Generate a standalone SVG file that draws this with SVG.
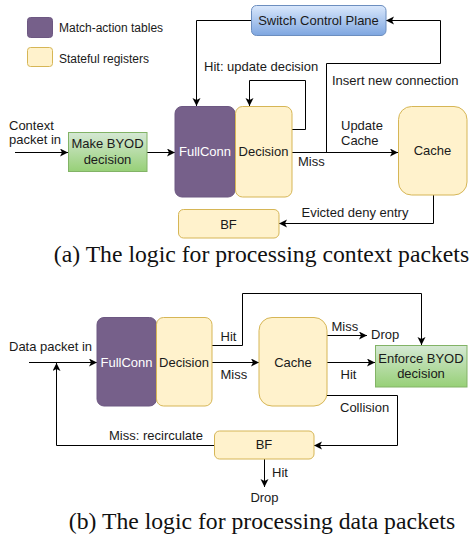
<svg xmlns="http://www.w3.org/2000/svg" width="472" height="538" viewBox="0 0 472 538">
<defs>
<linearGradient id="gGreen" x1="0" y1="0" x2="0" y2="1"><stop offset="0" stop-color="#d5e8d4"/><stop offset="1" stop-color="#97d077"/></linearGradient>
<linearGradient id="gBlue" x1="0" y1="0" x2="0" y2="1"><stop offset="0" stop-color="#dae8fc"/><stop offset="1" stop-color="#7ea6e0"/></linearGradient>
<marker id="arr" markerUnits="userSpaceOnUse" markerWidth="10" markerHeight="10" refX="8" refY="4" orient="auto"><path d="M0,0 L8,4 L0,8 L2,4 z" fill="#000"/></marker>
</defs>
<style>
text{font-family:"Liberation Sans",Arial,Helvetica,sans-serif;font-size:13px;fill:#1a1a1a}
.lg{font-size:12px}
.c{text-anchor:middle}
.w{fill:#ffffff}
.cap{font-family:"Liberation Serif","Times New Roman",serif;font-size:23.7px;text-anchor:middle;fill:#111}
.mat{fill:#76608a;stroke:#6d5882;stroke-width:1}
.reg{fill:#fff2cc;stroke:#d6b656;stroke-width:1}
.grn{fill:url(#gGreen);stroke:#82b366;stroke-width:1}
.blu{fill:url(#gBlue);stroke:#6c8ebf;stroke-width:1}
.e{fill:none;stroke:#000;stroke-width:1}
.a{marker-end:url(#arr)}
</style>

<g id="legend">
<rect class="mat" x="27.5" y="17.5" width="25" height="20" rx="3"/>
<text class="lg" x="59" y="32">Match-action tables</text>
<rect class="reg" x="27.5" y="47.5" width="25" height="19" rx="3"/>
<text class="lg" x="59" y="63">Stateful registers</text>
</g>

<g id="connectors">
<path class="e a" d="M251,20.5 H196.5 V106"/>
<path class="e a" d="M292,129.5 H305.5 V80.5 H249.5 V106"/>
<path class="e a" d="M326.5,152 V63.5 H440.5 V20.5 H386"/>
<path class="e a" d="M292,152.5 H398"/>
<path class="e a" d="M147,152.5 H175"/>
<path class="e a" d="M15,152.5 H68"/>
<path class="e a" d="M433.5,195 V223.5 H279"/>
<path class="e a" d="M29,362.5 H97"/>
<path class="e a" d="M212,345.5 H242.5 V293.5 H421.5 V345"/>
<path class="e a" d="M212,362.5 H259"/>
<path class="e a" d="M327,335.5 H367"/>
<path class="e a" d="M327,362.5 H375"/>
<path class="e a" d="M327,395.5 H397.5 V445.5 H314"/>
<path class="e a" d="M214,445.5 H56.5 V363"/>
<path class="e a" d="M264.5,459 V487"/>
</g>

<g id="edge-labels">
<text x="9" y="129.5">Context</text>
<text x="9" y="144">packet in</text>
<text x="204" y="71">Hit: update decision</text>
<text x="332" y="84.5">Insert new connection</text>
<text x="341" y="129.5">Update</text>
<text x="341" y="144.5">Cache</text>
<text x="298" y="166">Miss</text>
<text x="301.5" y="216.5">Evicted deny entry</text>
<text x="9" y="351">Data packet in</text>
<text x="220.5" y="340.5">Hit</text>
<text x="220.5" y="378.5">Miss</text>
<text x="331.5" y="331">Miss</text>
<text x="371" y="339">Drop</text>
<text x="340.5" y="378.5">Hit</text>
<text x="340" y="412">Collision</text>
<text x="109" y="440">Miss: recirculate</text>
<text x="272" y="477">Hit</text>
<text class="c" x="264.5" y="502">Drop</text>
</g>

<g id="switch-control-plane">
<rect class="blu" x="251.5" y="5.5" width="134.5" height="30" rx="5"/>
<text class="c" x="318.5" y="25">Switch Control Plane</text>
</g>
<g id="make-byod">
<rect class="grn" x="68.5" y="132.5" width="78.5" height="39"/>
<text class="c" x="107.5" y="148.3">Make BYOD</text>
<text class="c" x="107.5" y="163.7">decision</text>
</g>
<g id="fullconn-a">
<rect class="mat" x="175" y="106.5" width="60" height="90.5" rx="7"/>
<text class="c w" x="205" y="156">FullConn</text>
</g>
<g id="decision-a">
<rect class="reg" x="235.5" y="106.5" width="56.5" height="90.5" rx="7"/>
<text class="c" x="263.5" y="156">Decision</text>
</g>
<g id="cache-a">
<rect class="reg" x="398.5" y="106.5" width="68.5" height="88.5" rx="13"/>
<text class="c" x="432.5" y="154.5">Cache</text>
</g>
<g id="bf-a">
<rect class="reg" x="178.5" y="209.5" width="100.5" height="28.5" rx="5"/>
<text class="c" x="228.5" y="229.3">BF</text>
</g>

<g id="fullconn-b">
<rect class="mat" x="97" y="317.5" width="59.5" height="88.5" rx="7"/>
<text class="c w" x="126.5" y="366.7">FullConn</text>
</g>
<g id="decision-b">
<rect class="reg" x="156.5" y="317.5" width="55.5" height="88.5" rx="7"/>
<text class="c" x="184" y="366.7">Decision</text>
</g>
<g id="cache-b">
<rect class="reg" x="259" y="317.5" width="68" height="88.5" rx="13"/>
<text class="c" x="293" y="367">Cache</text>
</g>
<g id="enforce-byod">
<rect class="grn" x="375.5" y="345.5" width="91.5" height="41.5"/>
<text class="c" x="421" y="363">Enforce BYOD</text>
<text class="c" x="421" y="378">decision</text>
</g>
<g id="bf-b">
<rect class="reg" x="214.5" y="431" width="99.5" height="28" rx="5"/>
<text class="c" x="264" y="449.3">BF</text>
</g>

<g id="captions">
<text class="cap" x="261.5" y="262">(a) The logic for processing context packets</text>
<text class="cap" x="262" y="528.5">(b) The logic for processing data packets</text>
</g>
</svg>
